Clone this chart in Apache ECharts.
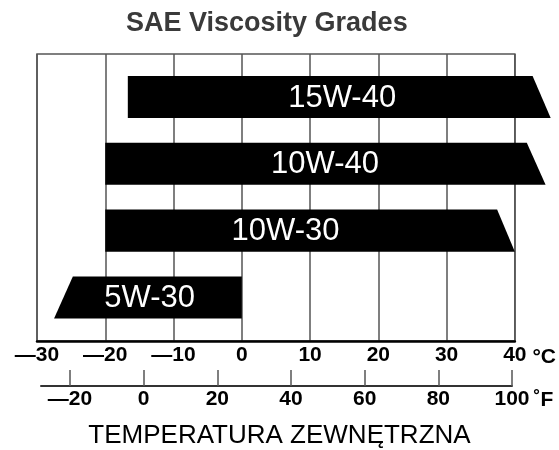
<!DOCTYPE html>
<html lang="pl">
<head>
    <meta charset="UTF-8">
    <title>SAE Viscosity Grades</title>
    <script src="https://cdn.jsdelivr.net/npm/echarts@6/dist/echarts.min.js"></script>
    <style>
        html, body { margin: 0; padding: 0; background: #fff; }
        #chart { width: 559px; height: 450px; }
    </style>
</head>
<body>
    <div id="chart"></div>

    <script>
        // grades, top to bottom
        const grades = ['15W-40', '10W-40', '10W-30', '5W-30'];
        // temperature range of each bar in °C (ends are slanted, so top and bottom differ)
        const lowTop = [-16.7, -20, -20, -24.75];
        const lowBottom = [-16.7, -20, -20, -27.5];
        const highTop = [42.6, 41.75, 37.4, 0];
        const highBottom = [45.25, 44.5, 40, 0];
        // where the grade name sits inside the bar (°C)
        const labelAt = [14.7, 12.2, 6.4, -13.5];

        // tick labels
        const celsiusTicks = [-30, -20, -10, 0, 10, 20, 30, 40];
        const fahrenheitTicks = [-20, 0, 20, 40, 60, 80, 100];

        const rows = grades.map((g, i) => [i, lowTop[i], lowBottom[i], highTop[i], highBottom[i], labelAt[i]]);

        const labelFont = 'Liberation Sans, Arial, sans-serif';
        const fmtNeg = v => String(v).replace('-', '\u2014');

        const chart = echarts.init(document.getElementById('chart'));

        const option = {
            animation: false,
            title: [
                {
                    text: 'SAE Viscosity Grades',
                    left: 126,
                    top: 10,
                    padding: 0,
                    textStyle: { fontFamily: labelFont, fontSize: 27, fontWeight: 'bold', color: '#3a3a3a' }
                },
                {
                    text: 'TEMPERATURA ZEWNĘTRZNA',
                    left: 'center',
                    top: 423,
                    padding: 0,
                    textStyle: { fontFamily: labelFont, fontSize: 26, fontWeight: 'normal', color: '#000' }
                }
            ],
            grid: [
                { left: 37, right: 42, top: 54, bottom: 109, show: true, borderColor: '#555', borderWidth: 1.5 },
                { left: 41, right: 47, top: 366, bottom: 64 }
            ],
            xAxis: [
                {
                    gridIndex: 0,
                    type: 'value',
                    min: -30,
                    max: 40,
                    interval: 10,
                    axisLine: { show: true, onZero: false, lineStyle: { color: '#000', width: 2.5 } },
                    axisTick: { show: false },
                    splitLine: { show: true, lineStyle: { color: '#555', width: 1.5 } },
                    axisLabel: {
                        margin: 4,
                        customValues: celsiusTicks,
                        fontFamily: labelFont,
                        fontSize: 21,
                        fontWeight: 'bold',
                        color: '#000',
                        formatter: fmtNeg
                    },
                    name: '°C',
                    nameLocation: 'end',
                    nameGap: 11,
                    nameTextStyle: {
                        fontFamily: labelFont,
                        fontSize: 21,
                        fontWeight: 'bold',
                        color: '#000',
                        verticalAlign: 'top',
                        padding: [6, 0, 0, 0]
                    }
                },
                {
                    gridIndex: 1,
                    type: 'value',
                    min: -27.87,
                    max: 100,
                    axisLine: { show: true, onZero: false, lineStyle: { color: '#333', width: 2 } },
                    axisTick: {
                        show: true,
                        inside: true,
                        length: 16,
                        customValues: fahrenheitTicks,
                        lineStyle: { color: '#555', width: 1.5 }
                    },
                    splitLine: { show: false },
                    axisLabel: {
                        margin: 3,
                        customValues: fahrenheitTicks,
                        fontFamily: labelFont,
                        fontSize: 21,
                        fontWeight: 'bold',
                        color: '#000',
                        formatter: fmtNeg
                    },
                    name: '˚F',
                    nameLocation: 'end',
                    nameGap: 13,
                    nameTextStyle: {
                        fontFamily: labelFont,
                        fontSize: 21,
                        fontWeight: 'bold',
                        color: '#000',
                        verticalAlign: 'top',
                        padding: [4, 0, 0, 0]
                    }
                }
            ],
            yAxis: [
                { gridIndex: 0, type: 'value', inverse: true, min: -0.643, max: 3.651, show: false },
                { gridIndex: 1, type: 'value', show: false }
            ],
            series: [
                {
                    type: 'custom',
                    xAxisIndex: 0,
                    yAxisIndex: 0,
                    clip: false,
                    encode: { x: [1, 2, 3, 4], y: 0 },
                    data: rows,
                    renderItem: function (params, api) {
                        const row = api.value(0);
                        const yc = api.coord([0, row])[1];
                        const h = api.size([0, 1])[1] * 0.63;
                        const x = v => api.coord([v, row])[0];
                        const top = yc - h / 2;
                        const bot = yc + h / 2;
                        return {
                            type: 'group',
                            children: [
                                {
                                    type: 'polygon',
                                    shape: {
                                        points: [
                                            [x(api.value(1)), top],
                                            [x(api.value(3)), top],
                                            [x(api.value(4)), bot],
                                            [x(api.value(2)), bot]
                                        ]
                                    },
                                    style: { fill: '#000' }
                                },
                                {
                                    type: 'text',
                                    x: x(api.value(5)),
                                    y: yc + 1,
                                    style: {
                                        text: grades[params.dataIndex],
                                        fill: '#fff',
                                        font: '31px ' + labelFont,
                                        align: 'center',
                                        verticalAlign: 'middle'
                                    }
                                }
                            ]
                        };
                    }
                }
            ]
        };

        chart.setOption(option);
    </script>
</body>
</html>
